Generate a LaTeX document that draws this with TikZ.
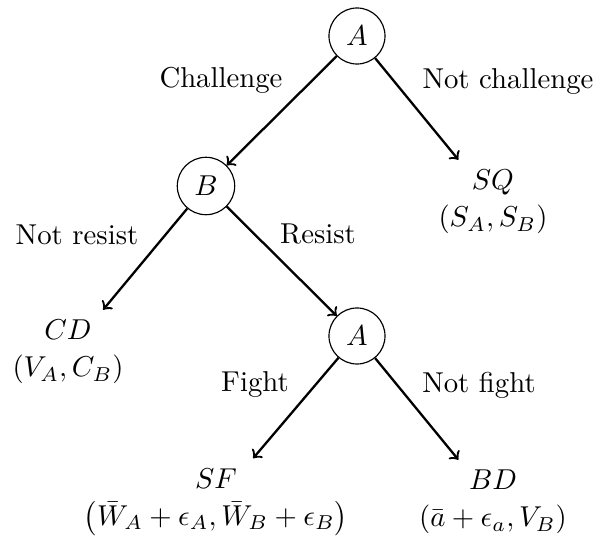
\documentclass[tikz,border=0pt]{standalone}
\usepackage{amsmath}
\begin{document}
\begin{tikzpicture}[x=0.347826pt,y=-0.347826pt,
  dec/.style={circle,draw,inner sep=3.33pt},
  leaf/.style={align=center},
  lab/.style={inner sep=0pt},
  br/.style={->,thick}]
\useasboundingbox (0,0) rectangle (597,541);
\node[dec] (A) at (357,36) {$A$};
\node[dec] (B) at (206,186) {$B$};
\node[dec] (A2) at (357,336) {$A$};
\node[leaf] (SQ) at (493,202) {$SQ$\\[1pt]$(S_A,S_B)$};
\node[leaf] (CD) at (68,352) {$CD$\\[1pt]$(V_A,C_B)$};
\node[leaf] (SF) at (216,502) {$SF$\\[1pt]$\left(\bar{W}_A+\epsilon_A,\bar{W}_B+\epsilon_B\right)$};
\node[leaf] (BD) at (493,502) {$BD$\\[1pt]$(\bar{a}+\epsilon_a,V_B)$};
\draw[br] (A) -- (B);
\draw[br] (A) -- (SQ);
\draw[br] (B) -- (CD);
\draw[br] (B) -- (A2);
\draw[br] (A2) -- (SF);
\draw[br] (A2) -- (BD);
\node[lab] (l1) at (221,80) {Challenge};
\node[lab] (l2) at (508,81) {Not challenge};
\node[lab] (l3) at (77,235) {Not resist};
\node[lab] (l4) at (318,234) {Resist};
\node[lab] (l5) at (255,384) {Fight};
\node[lab] (l6) at (479,385) {Not fight};
\end{tikzpicture}
\end{document}
